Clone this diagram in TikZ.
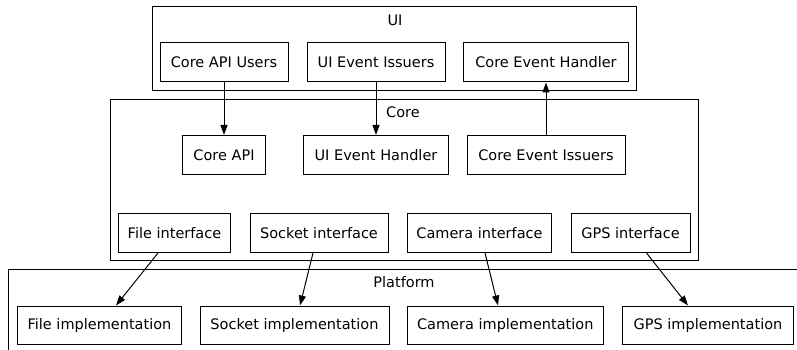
\documentclass[tikz,border=0pt]{standalone}
\usepackage{fontspec}
\setmainfont{DejaVu Sans}
\usetikzlibrary{arrows.meta}
\tikzset{
  box/.style={draw=black, line width=1pt, rectangle, inner sep=0pt, minimum height=39pt, font=\fontsize{14.5}{17}\selectfont},
  cluster/.style={draw=black, line width=1pt},
  clabel/.style={font=\fontsize{14.5}{17}\selectfont, inner sep=0pt},
  conn/.style={draw=black, line width=1pt, -{Triangle[length=10pt,width=7pt]}}
}
\begin{document}
\begin{tikzpicture}[x=1pt,y=-1pt]
\useasboundingbox (0,0) rectangle (797,350);
\clip (0,0) rectangle (797,350);
% clusters
\draw[cluster] (152.7,6.5) rectangle (636.7,90.7);
\draw[cluster] (110,99.3) rectangle (698.3,260.7);
\draw[cluster] (8.5,269.3) rectangle (820,370);
\node[clabel] (uilab) at (395,20) {UI};
\node[clabel] (corelab) at (403,112) {Core};
\node[clabel] (platlab) at (404,282) {Platform};
% UI row
\node[box, minimum width=128pt] (cau) at (224,62.5) {Core API Users};
\node[box, minimum width=138pt] (uei) at (376,62.5) {UI Event Issuers};
\node[box, minimum width=165pt] (ceh) at (546,62.5) {Core Event Handler};
% Core row 1
\node[box, minimum width=83pt] (capi) at (224,155) {Core API};
\node[box, minimum width=145pt] (ueh) at (376,155) {UI Event Handler};
\node[box, minimum width=158pt] (cei) at (546,155) {Core Event Issuers};
% Core row 2
\node[box, minimum width=112pt] (fi) at (174.5,233) {File interface};
\node[box, minimum width=138pt] (si) at (319,233) {Socket interface};
\node[box, minimum width=144pt] (cami) at (479.5,233) {Camera interface};
\node[box, minimum width=119pt] (gpsi) at (630.5,233) {GPS interface};
% Platform row
\node[box, minimum width=164pt, minimum height=38pt] (fimp) at (99.5,325) {File implementation};
\node[box, minimum width=189pt, minimum height=38pt] (simp) at (294.5,325) {Socket implementation};
\node[box, minimum width=196pt, minimum height=38pt] (camimp) at (505.3,325) {Camera implementation};
\node[box, minimum width=171pt, minimum height=38pt] (gpsimp) at (708,325) {GPS implementation};
% connectors
\draw[conn] (cau.south) -- (capi.north);
\draw[conn] (uei.south) -- (ueh.north);
\draw[conn] (cei.north) -- (ceh.south);
\draw[conn] ([xshift=-16.5pt]fi.south) -- ([xshift=16.5pt]fimp.north);
\draw[conn] ([xshift=-6pt]si.south) -- ([xshift=5.5pt]simp.north);
\draw[conn] ([xshift=5.5pt]cami.south) -- ([xshift=-7.3pt]camimp.north);
\draw[conn] ([xshift=16pt]gpsi.south) -- ([xshift=-20pt]gpsimp.north);
\end{tikzpicture}
\end{document}
